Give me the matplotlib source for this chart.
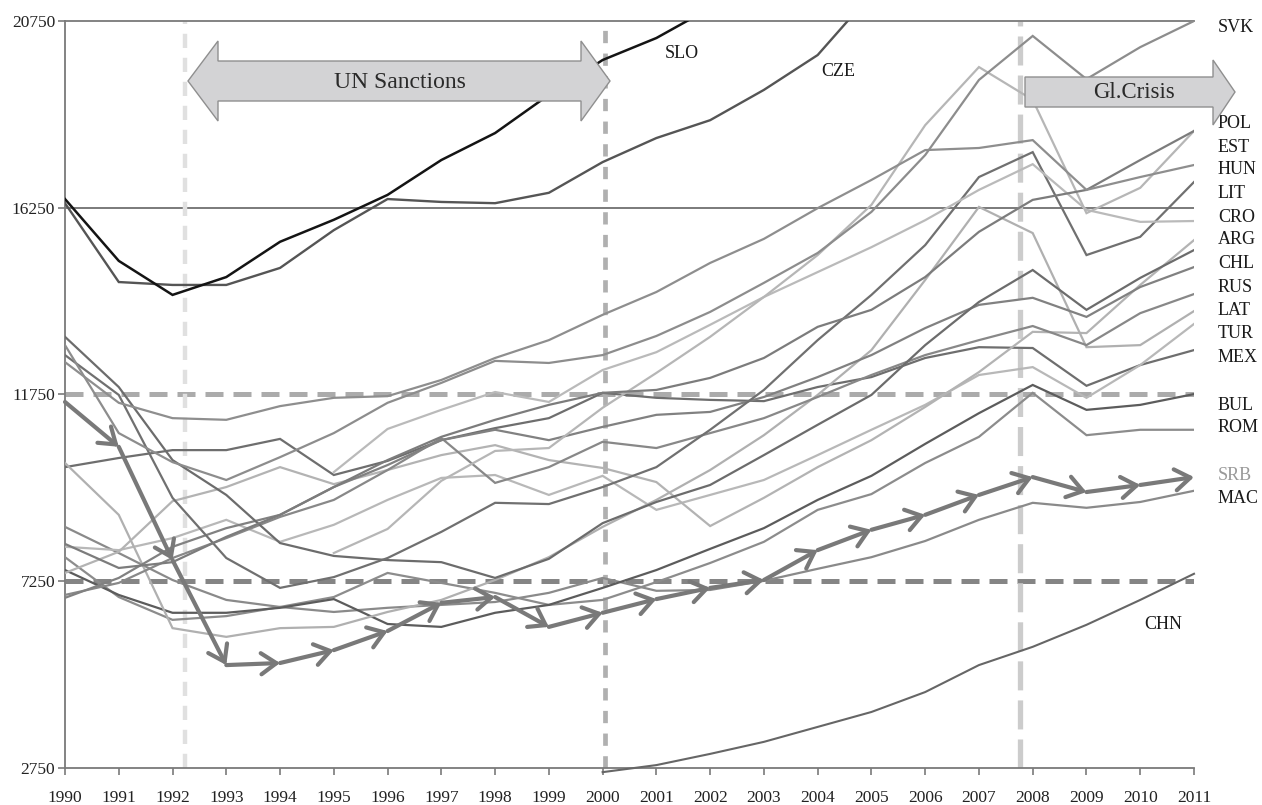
import numpy as np
import matplotlib
matplotlib.use("Agg")
import matplotlib.pyplot as plt
from matplotlib.patches import Polygon

nan = np.nan
years = list(range(1990, 2012))

slo = [16460, 14970, 14150, 14580, 15430, 15960, 16560, 17400, 18050, 18970, 19810, 20340, 21060,
       nan, nan, nan, nan, nan, nan, nan, nan, nan]
cze = [16360, 14460, 14390, 14390, 14800, 15710, 16460, 16390, 16360, 16610, 17350, 17930, 18360, 19090, 19930, 21400,
       nan, nan, nan, nan, nan, nan]
svk = [12940, 10820, 10120, 9690, 10240, 10820, 11550, 12030, 12560, 12510, 12700, 13160, 13740, 14440, 15160, 16150,
       17520, 19330, 20390, 19350, 20120, 20750]
hun = [12530, 11550, 11180, 11140, 11470, 11670, 11710, 12100, 12630, 13060, 13670, 14220, 14920, 15500, 16240, 16920,
       17640, 17690, 17880, 16680, 16990, 17280]
pol = [8150, 7570, 7710, 8320, 8850, 9520, 10170, 10730, 11140, 11500, 11790, 11860, 12150, 12630, 13380, 13790,
       14580, 15670, 16440, 16680, 17400, 18100]
est = [nan, nan, nan, nan, nan, 7930, 8510, 9670, 10390, 10460, 11430, 12270, 13140, 14100, 15110, 16320,
       18240, 19640, 18850, 16120, 16730, 18100]
cro = [nan, nan, nan, nan, nan, 9880, 10920, 11380, 11810, 11570, 12340, 12770, 13430, 14100, 14700, 15300,
       15950, 16680, 17300, 16200, 15910, 15930]
lit = [12700, 11740, 9260, 7810, 7090, 7350, 7810, 8440, 9140, 9110, 9520, 10000, 10900, 11860, 13060, 14150,
       15350, 16990, 17590, 15110, 15550, 16870]
rus = [13140, 11930, 10170, 9330, 8170, 7860, 7760, 7710, 7330, 7790, 8650, 9160, 9570, 10290, 11020, 11740,
       12940, 13980, 14750, 13790, 14560, 15230]
chl = [6850, 7330, 8080, 8530, 8850, 9520, 10050, 10650, 10900, 10650, 10970, 11260, 11330, 11690, 12170, 12700,
       13350, 13910, 14080, 13620, 14340, 14820]
unl = [6920, 7210, 7810, 8290, 8800, 9210, 9930, 10700, 9620, 10000, 10610, 10460, 10820, 11180, 11690, 12220,
       12700, 13060, 13400, 12940, 13710, 14170]
lat = [10100, 8850, 6120, 5910, 6120, 6150, 6510, 6800, 7280, 7830, 8560, 9210, 9930, 10770, 11740, 12820,
       14510, 16270, 15640, 12890, 12940, 13760]
tur = [8080, 8000, 8290, 8730, 8200, 8610, 9210, 9740, 9810, 9330, 9790, 8970, 9330, 9690, 10290, 10900,
       11500, 12220, 12410, 11670, 12460, 13450]
arg = [7450, 7960, 9180, 9520, 10000, 9590, 9930, 10290, 10530, 10170, 9980, 9640, 8580, 9260, 10000, 10650,
       11450, 12290, 13260, 13230, 14390, 15470]
mex = [10000, 10220, 10410, 10410, 10680, 9810, 10150, 10650, 10940, 11180, 11790, 11670, 11620, 11590, 11930, 12170,
       12630, 12890, 12870, 11960, 12460, 12820]
bul = [7520, 6920, 6490, 6490, 6610, 6820, 6220, 6150, 6490, 6680, 7090, 7520, 8030, 8530, 9210, 9790,
       10560, 11300, 11980, 11380, 11500, 11760]
rom = [7830, 6870, 6320, 6410, 6630, 6870, 7450, 7210, 6970, 6680, 6800, 7230, 7690, 8200, 8970, 9350,
       10100, 10730, 11790, 10770, 10900, 10900]
mac = [8560, 7930, 7280, 6800, 6630, 6510, 6610, 6680, 6750, 6970, 7330, 7020, 7040, 7260, 7550, 7830,
       8220, 8730, 9140, 9020, 9160, 9430]
srb = [11570, 10490, 7760, 5230, 5280, 5590, 6050, 6730, 6870, 6150, 6490, 6820, 7090, 7280, 8000, 8490,
       8850, 9330, 9760, 9400, 9570, 9760]
chn = [nan, nan, nan, nan, nan, nan, nan, nan, nan, nan, 2650, 2820, 3090, 3380, 3740, 4100,
       4580, 5230, 5670, 6200, 6800, 7430]

y_ticks = [2750, 7250, 11750, 16250, 20750]
ref_solid = 16250
ref_dash_hi = 11750
ref_dash_lo = 7250
event_years = [1992.23, 2000.04, 2007.76]

right_labels = ["SVK", "POL", "EST", "HUN", "LIT", "CRO", "ARG", "CHL", "RUS", "LAT", "TUR", "MEX",
                "BUL", "ROM", "SRB", "MAC"]

W, H = 1262, 805
fig = plt.figure(figsize=(W / 100, H / 100), dpi=100)
ax = fig.add_axes([65 / W, 1 - 768 / H, (1194 - 65) / W, (768 - 21) / H])
plt.rcParams['font.family'] = ['Liberation Serif', 'DejaVu Serif']
serif = ['Liberation Serif', 'DejaVu Serif']

ax.set_xlim(1990, 2011)
ax.set_ylim(2750, 20750)

# reference lines
ax.axhline(ref_solid, color='#6f6f6f', lw=1.3, zorder=1)
ax.axhline(ref_dash_hi, color='#ababab', lw=3.6, dashes=(3.6, 2.0), zorder=1)
ax.axhline(ref_dash_lo, color='#858585', lw=3.6, dashes=(3.6, 2.0), zorder=1)
ax.axvline(event_years[0], color='#e0e0e0', lw=3.2, dashes=(3.2, 2.2), zorder=1)
ax.axvline(event_years[1], color='#b0b0b0', lw=3.4, dashes=(2.6, 2.2), zorder=1)
ax.axvline(event_years[2], color='#cccccc', lw=3.8, dashes=(5.5, 1.9), zorder=1)

series = [
    (mac, '#8a8a8a', 1.6), (rom, '#8c8c8c', 1.6), (bul, '#5c5c5c', 1.6),
    (mex, '#6e6e6e', 1.6), (tur, '#b8b8b8', 1.6), (arg, '#b3b3b3', 1.6), (lat, '#b0b0b0', 1.6),
    (unl, '#888888', 1.6), (chl, '#818181', 1.6), (rus, '#6c6c6c', 1.6), (lit, '#707070', 1.6),
    (cro, '#bababa', 1.6), (est, '#b6b6b6', 1.6), (pol, '#7c7c7c', 1.6), (hun, '#8e8e8e', 1.6),
    (svk, '#8d8d8d', 1.6), (cze, '#555555', 1.7), (slo, '#141414', 1.8),
]
for vals, col, lw in series:
    ax.plot(years, vals, color=col, lw=lw, zorder=3, solid_joinstyle='miter')
ax.plot(years, chn, color='#666666', lw=1.5, zorder=3, clip_on=False)

# SRB path with chevron arrows
for i in range(len(years) - 1):
    ax.annotate('', xy=(years[i + 1], srb[i + 1]), xytext=(years[i], srb[i]),
                arrowprops=dict(arrowstyle='->,head_length=0.55,head_width=0.38', mutation_scale=20,
                                lw=3.0, color='#797979', shrinkA=0, shrinkB=0),
                zorder=4)

# axes styling
for s in ['left', 'bottom', 'top']:
    ax.spines[s].set_color('#7a7a7a')
    ax.spines[s].set_linewidth(1.3)
ax.spines['right'].set_visible(False)
ax.set_xticks(years)
ax.set_xticklabels([str(y) for y in years], fontsize=12.5, family=serif, color='#222222')
ax.set_yticks(y_ticks)
ax.set_yticklabels([str(v) for v in y_ticks], fontsize=12.5, family=serif, color='#222222')
ax.tick_params(axis='x', length=5, width=1.2, color='#7a7a7a', pad=11)
ax.tick_params(axis='y', length=5, width=1.2, color='#7a7a7a', pad=2)

# right-side labels
label_py = [28, 124, 147, 170, 194, 217, 240, 263, 287, 310, 333, 357, 405, 428, 475, 498]
for name, py in zip(right_labels, label_py):
    col = '#999999' if name == 'SRB' else '#1a1a1a'
    fig.text(1218 / W, 1 - py / H, name, fontsize=13, family=serif, color=col, va='center', ha='left')
fig.text(1163 / W, 1 - 624 / H, "CHN", fontsize=13, family=serif, color='#1a1a1a', va='center', ha='center')
fig.text(682 / W, 1 - 53 / H, "SLO", fontsize=13, family=serif, color='#1a1a1a', va='center', ha='center')
fig.text(838 / W, 1 - 72 / H, "CZE", fontsize=13, family=serif, color='#1a1a1a', va='center', ha='center')

# block arrows
def fp(px, py):
    return (px / W, 1 - py / H)

un_pts = [(188, 81), (218, 41), (218, 61), (581, 61), (581, 41), (610, 81), (581, 121), (581, 101),
          (218, 101), (218, 121)]
gc_pts = [(1025, 77), (1213, 77), (1213, 60), (1235, 92), (1213, 125), (1213, 107), (1025, 107)]
for pts in (un_pts, gc_pts):
    fig.patches.append(Polygon([fp(*p) for p in pts], closed=True, transform=fig.transFigure,
                               facecolor='#d3d3d5', edgecolor='#8f8f8f', lw=1.0, zorder=5))
fig.text(400 / W, 1 - 82 / H, "UN Sanctions", fontsize=17, family=serif, color='#2a2a2a',
         ha='center', va='center', zorder=6)
fig.text(1134 / W, 1 - 92 / H, "Gl.Crisis", fontsize=16.5, family=serif, color='#2a2a2a',
         ha='center', va='center', zorder=6)

fig.savefig("out.png", dpi=100)
